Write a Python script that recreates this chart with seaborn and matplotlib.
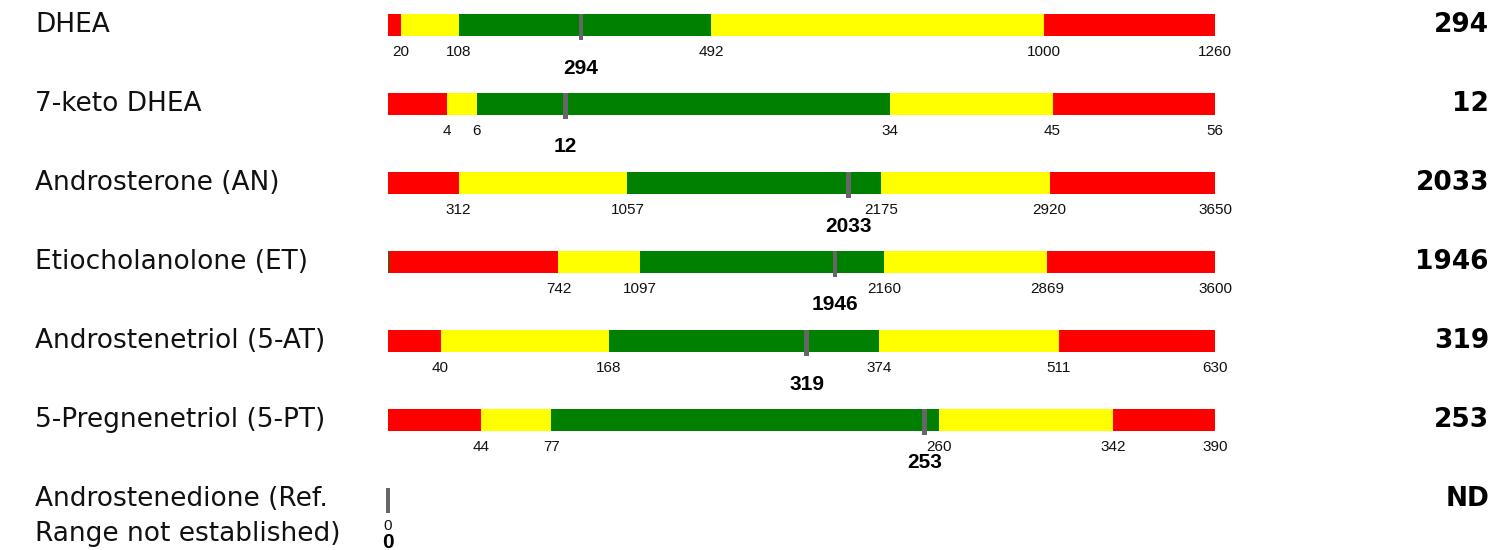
import matplotlib
matplotlib.use("Agg")
import matplotlib.pyplot as plt
import matplotlib.transforms as mtransforms
import seaborn as sns

# analytes, top to bottom
names = ["DHEA", "7-keto DHEA", "Androsterone (AN)", "Etiocholanolone (ET)",
         "Androstenetriol (5-AT)", "5-Pregnenetriol (5-PT)",
         "Androstenedione (Ref.\nRange not established)"]
results = [294, 12, 2033, 1946, 319, 253, 0]
result_text = ["294", "12", "2033", "1946", "319", "253", "ND"]

# segment boundaries (upper edge of each segment) and their colours
bounds = [
    [20, 108, 492, 1000, 1260],
    [4, 6, 34, 45, 56],
    [312, 1057, 2175, 2920, 3650],
    [4, 742, 1097, 2160, 2869, 3600],
    [40, 168, 374, 511, 630],
    [44, 77, 260, 342, 390],
    [],
]
seg_colors = [
    ["red", "yellow", "green", "yellow", "red"],
    ["red", "yellow", "green", "yellow", "red"],
    ["red", "yellow", "green", "yellow", "red"],
    ["green", "red", "yellow", "green", "yellow", "red"],
    ["red", "yellow", "green", "yellow", "red"],
    ["red", "yellow", "green", "yellow", "red"],
    [],
]
tick_labels = [
    [20, 108, 492, 1000, 1260],
    [4, 6, 34, 45, 56],
    [312, 1057, 2175, 2920, 3650],
    [742, 1097, 2160, 2869, 3600],
    [40, 168, 374, 511, 630],
    [44, 77, 260, 342, 390],
    [0],
]

palette = {"red": "#FF0000", "yellow": "#FFFF00", "green": "#008000"}

sns.set_theme(style="white")
plt.rcParams["font.family"] = ["DejaVu Sans"]

W, H = 1503, 550
fig = plt.figure(figsize=(W / 100, H / 100), dpi=100)
ax = fig.add_axes([388 / W, 0, 827 / W, 1])
ax.set_xlim(0, 1)
ax.set_ylim(H, 0)
ax.axis("off")

lab_tr = mtransforms.blended_transform_factory(fig.transFigure, ax.transData)

row0, step, bar_h = 25, 79, 22
num_font = "Liberation Sans"

for i, name in enumerate(names):
    yc = row0 + i * step
    top = yc - bar_h / 2
    b = bounds[i]
    vmax = b[-1] if b else 1
    left = 0
    for edge, c in zip(b, seg_colors[i]):
        ax.barh(yc, (edge - left) / vmax, left=left / vmax, height=bar_h,
                color=palette[c], linewidth=0)
        left = edge
    for t in tick_labels[i]:
        ax.text(t / vmax, yc + 27, str(t), ha="center", va="center",
                fontsize=11, family=num_font, color="#111111", clip_on=False)
    # patient result marker
    xm = results[i] / vmax
    mh = bar_h + 4 if b else bar_h + 3
    ax.add_patch(plt.Rectangle((xm - 0.0028, top), 0.0056, mh,
                               color="#666666", linewidth=0, clip_on=False,
                               zorder=3))
    ax.text(xm, yc + 43, str(results[i]), ha="center", va="center",
            fontsize=15, fontweight="bold", family=num_font, color="#000000",
            clip_on=False)
    # left name (one text per line) and right value
    for k, line in enumerate(name.split("\n")):
        ax.text(35 / W, top + 18 + k * 35, line, transform=lab_tr, ha="left",
                va="baseline", fontsize=19, color="#111111")
    ax.text(1489 / W, top + 18, result_text[i], transform=lab_tr, ha="right",
            va="baseline", fontsize=19, fontweight="bold", color="#000000")

fig.savefig("out.png", dpi=100)
